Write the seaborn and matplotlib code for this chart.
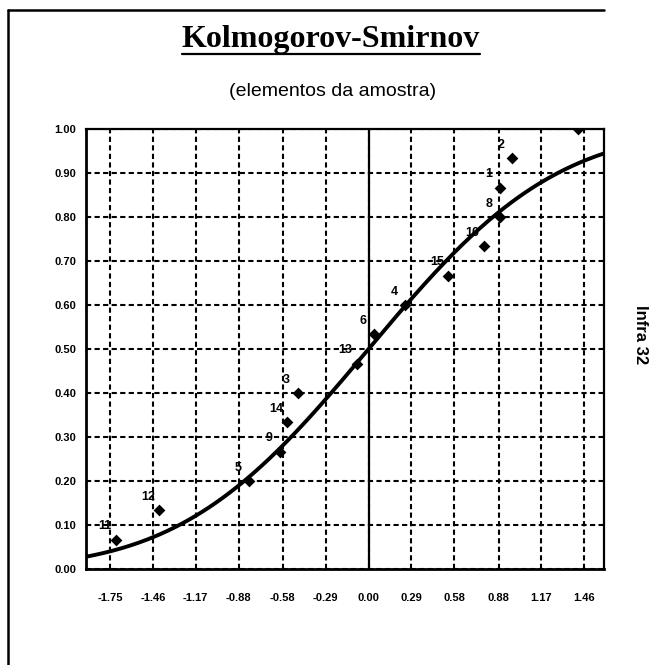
import math
import numpy as np
import pandas as pd
import matplotlib
matplotlib.use("Agg")
import matplotlib.pyplot as plt
from matplotlib.lines import Line2D
import seaborn as sns

# ---- data ----
point_labels = ["1", "2", "3", "4", "5", "6", "7", "8", "9", "10", "11", "12", "13", "14", "15"]
point_x = [0.89, 0.97, -0.48, 0.25, -0.81, 0.04, 1.42, 0.89, -0.60, 0.78, -1.71, -1.42, -0.08, -0.55, 0.54]
point_y = [0.867, 0.933, 0.400, 0.600, 0.200, 0.533, 1.000, 0.800, 0.267, 0.733, 0.067, 0.133, 0.467, 0.333, 0.667]
x_tick_labels = ["-1.75", "-1.46", "-1.17", "-0.88", "-0.58", "-0.29", "0.00", "0.29", "0.58", "0.88", "1.17", "1.46"]
y_tick_labels = ["0.00", "0.10", "0.20", "0.30", "0.40", "0.50", "0.60", "0.70", "0.80", "0.90", "1.00"]
curve_mean = 0.0
curve_sd = 1.0
title = "Kolmogorov-Smirnov"
subtitle = "(elementos da amostra)"
side_text = "Infra 32"

sns.set_style("white")
plt.rcParams["font.family"] = ["Liberation Sans", "DejaVu Sans"]
plt.rcParams["text.color"] = "black"
plt.rcParams["xtick.color"] = "black"
plt.rcParams["ytick.color"] = "black"

W, H = 655, 665
fig = plt.figure(figsize=(W / 100, H / 100), dpi=100)
fig.patch.set_facecolor("white")

L, R, T, B = 86, 604, 129, 569
ax = fig.add_axes([L / W, 1 - B / H, (R - L) / W, (B - T) / H])

xlim = (-1.913, 1.594)
curve_x = np.linspace(xlim[0], xlim[1], 300)
curve_y = np.array([0.5 * (1 + math.erf((v - curve_mean) / (curve_sd * math.sqrt(2)))) for v in curve_x])
curve_df = pd.DataFrame({"x": curve_x, "y": curve_y})
pts = pd.DataFrame({"x": point_x, "y": point_y, "label": point_labels})

# grid
xt = [float(s) for s in x_tick_labels]
yt = [float(s) for s in y_tick_labels]
ax.set_xticks(xt)
ax.set_xticklabels(x_tick_labels)
ax.set_yticks(yt)
ax.set_yticklabels(y_tick_labels)
ax.grid(True, color="black", linestyle=(0, (2.5, 1.6)), linewidth=1.5, zorder=1)
ax.set_axisbelow(True)
ax.axvline(0, color="black", lw=1.6, zorder=2)

sns.lineplot(data=curve_df, x="x", y="y", ax=ax, color="black", linewidth=2.8, zorder=3)
sns.scatterplot(data=pts, x="x", y="y", ax=ax, marker="D", s=36, color="black",
                edgecolor="black", linewidth=0, zorder=4, clip_on=True)
for lab, px, py in zip(point_labels, point_x, point_y):
    ax.annotate(lab, (px, py), xytext=(-8, 9.5), textcoords="offset points",
                ha="center", va="center", fontsize=9, fontweight="bold", color="black",
                annotation_clip=True, clip_on=True, zorder=5)

ax.set_xlim(*xlim)
ax.set_ylim(0, 1)
ax.set_xlabel("")
ax.set_ylabel("")
for side, sp in ax.spines.items():
    sp.set_visible(True)
    sp.set_color("black")
    sp.set_linewidth(2.0 if side in ("left", "bottom") else 1.6)
ax.tick_params(axis="both", direction="inout", length=6, width=1.5, color="black",
               labelcolor="black", labelsize=8, pad=4)
ax.tick_params(axis="x", pad=14)
for lbl in ax.get_xticklabels() + ax.get_yticklabels():
    lbl.set_fontweight("bold")

# titles
t = fig.text(331 / W, 1 - 40 / H, title, family=["Liberation Serif", "DejaVu Serif"],
             fontweight="bold", fontsize=23, ha="center", va="center", color="black")
fig.text(333 / W, 1 - 92 / H, subtitle, fontsize=14, ha="center", va="center", color="black")
fig.text(641 / W, 1 - 335 / H, side_text, fontsize=12, fontweight="bold",
         rotation=-90, ha="center", va="center", color="black")

fig.canvas.draw()
bb = t.get_window_extent()
uy = (bb.y0 + 1) / H
fig.add_artist(Line2D([bb.x0 / W, bb.x1 / W], [uy, uy], color="black", lw=1.6))

# outer frame (partial, as in the scan)
fig.add_artist(Line2D([8 / W, 8 / W], [0, 1 - 10 / H], color="black", lw=1.8))
fig.add_artist(Line2D([8 / W, 604 / W], [1 - 10 / H, 1 - 10 / H], color="black", lw=1.8))

fig.savefig("out.png", dpi=100)
